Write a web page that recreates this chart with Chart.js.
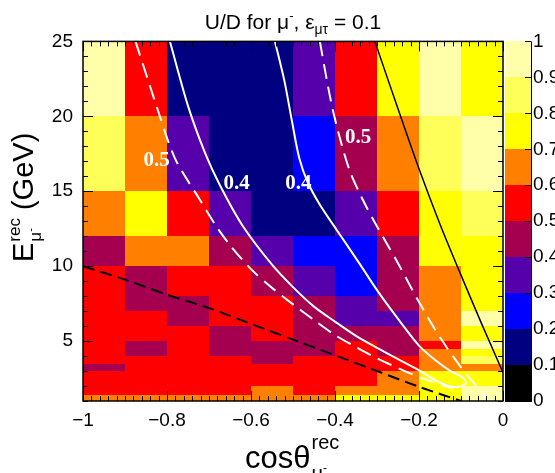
<!DOCTYPE html>
<html>
<head>
<meta charset="utf-8">
<script src="https://cdn.jsdelivr.net/npm/chart.js@4.4.1/dist/chart.umd.min.js"></script>
<style>
  html, body { margin: 0; padding: 0; background: #fff; }
</style>
</head>
<body>
<canvas id="ud-chart" width="555" height="473"></canvas>
<script>
// Bin edges
const cosEdges = [-1, -0.9, -0.8, -0.7, -0.6, -0.5, -0.4, -0.3, -0.2, -0.1, 0];
const energyEdges = [1, 1.4, 2, 3, 3.5, 4, 4.5, 5, 6, 7, 8, 10, 12, 15, 20, 25];

// Tick labels
const cosTicks = [-1, -0.8, -0.6, -0.4, -0.2, 0];
const energyTicks = [5, 10, 15, 20, 25];
const ratioTicks = [0, 0.1, 0.2, 0.3, 0.4, 0.5, 0.6, 0.7, 0.8, 0.9, 1];

// U/D ratio, one row per energy bin (lowest energy first), columns cos -1 .. 0
const udRatio = [
    [0.64, 0.63, 0.65, 0.62, 0.64, 0.63, 0.72, 0.73, 0.76, 0.94], // 1 - 1.4
    [0.57, 0.58, 0.56, 0.57, 0.63, 0.58, 0.65, 0.66, 0.78, 0.92], // 1.4 - 2
    [0.56, 0.55, 0.57, 0.56, 0.58, 0.56, 0.59, 0.62, 0.75, 0.77], // 2 - 3
    [0.47, 0.57, 0.56, 0.55, 0.54, 0.53, 0.58, 0.55, 0.66, 0.68], // 3 - 3.5
    [0.58, 0.56, 0.55, 0.54, 0.48, 0.52, 0.57, 0.56, 0.63, 0.84], // 3.5 - 4
    [0.55, 0.45, 0.53, 0.46, 0.45, 0.48, 0.56, 0.47, 0.64, 0.74], // 4 - 4.5
    [0.54, 0.46, 0.56, 0.44, 0.47, 0.45, 0.55, 0.49, 0.57, 0.90], // 4.5 - 5
    [0.57, 0.54, 0.55, 0.46, 0.53, 0.47, 0.43, 0.48, 0.69, 0.75], // 5 - 6
    [0.56, 0.52, 0.48, 0.54, 0.53, 0.45, 0.39, 0.37, 0.67, 0.91], // 6 - 7
    [0.55, 0.47, 0.49, 0.53, 0.52, 0.44, 0.38, 0.47, 0.66, 0.79], // 7 - 8
    [0.53, 0.48, 0.52, 0.51, 0.46, 0.36, 0.29, 0.44, 0.68, 0.77], // 8 - 10
    [0.47, 0.62, 0.61, 0.45, 0.34, 0.26, 0.28, 0.46, 0.78, 0.76], // 10 - 12
    [0.67, 0.74, 0.55, 0.38, 0.17, 0.18, 0.35, 0.57, 0.77, 0.83], // 12 - 15
    [0.84, 0.66, 0.37, 0.16, 0.15, 0.27, 0.46, 0.64, 0.86, 0.93], // 15 - 20
    [0.93, 0.56, 0.14, 0.12, 0.13, 0.36, 0.57, 0.76, 0.92, 0.78]  // 20 - 25
];

// Contour lines as [cos, E] points
const contour04 = [[-0.793, 25], [-0.75, 20.7], [-0.71, 17.6], [-0.674, 15.4], [-0.62, 12.7], [-0.55, 10.1],
    [-0.5, 8.6], [-0.45, 7.3], [-0.4, 6.3], [-0.35, 5.35], [-0.3, 4.55], [-0.25, 3.8], [-0.2, 3.05], [-0.165, 2.45],
    [-0.13, 2.0], [-0.105, 1.95], [-0.088, 2.2], [-0.098, 2.6], [-0.125, 3.0], [-0.16, 3.7], [-0.2, 4.7],
    [-0.245, 6.3], [-0.3, 8.4], [-0.34, 10.1], [-0.393, 12.3], [-0.436, 14.1], [-0.465, 15.6], [-0.485, 17.2],
    [-0.502, 19.6], [-0.52, 22.3], [-0.543, 25]];
const contour05Left = [[-0.875, 25], [-0.845, 22.4], [-0.817, 20], [-0.798, 18.4], [-0.776, 16.9], [-0.721, 14.4],
    [-0.686, 12.8], [-0.65, 11.4], [-0.6, 9.8], [-0.55, 8.55], [-0.5, 7.45], [-0.45, 6.4], [-0.4, 5.4], [-0.35, 4.6],
    [-0.3, 3.85], [-0.25, 3.2], [-0.2, 2.6], [-0.16, 2.2], [-0.12, 1.85]];
const contour05Right = [[-0.436, 25], [-0.42, 22.5], [-0.405, 20.4], [-0.385, 18.2], [-0.364, 16.3], [-0.335, 14.5],
    [-0.305, 12.9], [-0.25, 10.2], [-0.2, 7.6], [-0.15, 5.25], [-0.1, 3.25], [-0.05, 1.55], [-0.035, 1.0]];
const blackSolid = [[-0.305, 25], [-0.25, 20.5], [-0.2, 16.5], [-0.15, 12.8], [-0.1, 9.4], [-0.05, 6.1], [0, 2.9]];
const blackDashed = [[-1, 10], [-0.9, 9.1], [-0.8, 8.1], [-0.7, 7.2], [-0.6, 6.15], [-0.5, 5.1], [-0.4, 4.05],
    [-0.3, 3.0], [-0.2, 1.95], [-0.1, 1.0]];

// Contour labels
const contourLabels = [
    { text: '0.5', cos: -0.825, e: 17.07 },
    { text: '0.4', cos: -0.634, e: 15.48 },
    { text: '0.4', cos: -0.487, e: 15.48 },
    { text: '0.5', cos: -0.345, e: 18.59 }
];

const palette = ['#000000', '#000080', '#0000ff', '#5500aa', '#a50050',
    '#ff0000', '#ff8000', '#ffff00', '#ffff5a', '#ffffaa'];

const sansFont = 'Liberation Sans, Arial, Helvetica, sans-serif';

function colorFor(v) {
    return palette[Math.min(palette.length - 1, Math.floor(v * 10))];
}

function toPoints(pairs) {
    return pairs.map(p => ({ x: p[0], y: p[1] }));
}

// draws a run of text pieces, each piece {t, size, dy}
function drawPieces(ctx, pieces, x, y) {
    let cx = x;
    pieces.forEach(p => {
        ctx.font = p.size + 'px ' + sansFont;
        ctx.fillText(p.t, cx, y + (p.dy || 0));
        if (!p.stack) cx += ctx.measureText(p.t).width;
    });
    return cx;
}

const heatmapPlugin = {
    id: 'heatmap',
    beforeDatasetsDraw(chart) {
        const { ctx, scales: { x, y } } = chart;
        ctx.save();
        udRatio.forEach((row, i) => {
            row.forEach((val, j) => {
                const left = Math.round(x.getPixelForValue(cosEdges[j]));
                const right = Math.round(x.getPixelForValue(cosEdges[j + 1]));
                const top = Math.round(y.getPixelForValue(energyEdges[i + 1]));
                const bottom = Math.round(y.getPixelForValue(energyEdges[i]));
                ctx.fillStyle = colorFor(val);
                ctx.fillRect(left, top, right - left, bottom - top);
            });
        });
        ctx.restore();
    },
    afterDatasetsDraw(chart) {
        const { ctx, chartArea: a, scales: { x, y, z } } = chart;
        ctx.save();

        // contour labels
        ctx.fillStyle = '#ffffff';
        ctx.font = 'bold 21px Liberation Serif, Times New Roman, serif';
        ctx.textAlign = 'center';
        ctx.textBaseline = 'middle';
        contourLabels.forEach(l => {
            ctx.fillText(l.text, x.getPixelForValue(l.cos), y.getPixelForValue(l.e));
        });

        // frame and inner ticks
        ctx.strokeStyle = '#000';
        ctx.lineWidth = 1;
        ctx.beginPath();
        for (let k = 0; k <= 50; k++) {
            const px = Math.round(x.getPixelForValue(-1 + k * 0.02)) + 0.5;
            const len = k % 10 === 0 ? 10 : 5;
            ctx.moveTo(px, a.bottom); ctx.lineTo(px, a.bottom - len);
            ctx.moveTo(px, a.top); ctx.lineTo(px, a.top + len);
        }
        for (let e = 1; e <= 25; e++) {
            const py = Math.round(y.getPixelForValue(e)) + 0.5;
            const len = e % 5 === 0 ? 10 : 5;
            ctx.moveTo(a.left, py); ctx.lineTo(a.left + len, py);
            ctx.moveTo(a.right, py); ctx.lineTo(a.right - len, py);
        }
        ctx.stroke();
        ctx.lineWidth = 1.5;
        ctx.strokeRect(a.left, a.top, a.right - a.left, a.bottom - a.top);

        // colour bar
        const cbLeft = a.right + 2, cbRight = a.right + 28;
        for (let k = 0; k < ratioTicks.length - 1; k++) {
            const t = Math.round(z.getPixelForValue(ratioTicks[k + 1]));
            const b = Math.round(z.getPixelForValue(ratioTicks[k]));
            ctx.fillStyle = palette[k];
            ctx.fillRect(cbLeft, t, cbRight - cbLeft, b - t);
        }
        ctx.lineWidth = 1;
        ctx.beginPath();
        ratioTicks.forEach(v => {
            const py = Math.round(z.getPixelForValue(v)) + 0.5;
            ctx.moveTo(cbRight, py); ctx.lineTo(cbRight - 6, py);
        });
        ctx.moveTo(cbRight + 0.5, a.top); ctx.lineTo(cbRight + 0.5, a.bottom + 1);
        ctx.moveTo(cbLeft, a.bottom + 0.5); ctx.lineTo(cbRight + 1, a.bottom + 0.5);
        ctx.stroke();
        ctx.restore();
    },
    afterDraw(chart) {
        const { ctx } = chart;
        ctx.save();
        ctx.fillStyle = '#000';
        ctx.textBaseline = 'alphabetic';
        ctx.textAlign = 'left';

        // title
        const titlePieces = [
            { t: 'U/D for \u03bc', size: 21 },
            { t: '-', size: 13, dy: -9 },
            { t: ', \u03b5', size: 21 },
            { t: '\u03bc\u03c4', size: 14, dy: 5 },
            { t: ' = 0.1', size: 21 }
        ];
        let w = 0;
        titlePieces.forEach(p => { ctx.font = p.size + 'px ' + sansFont; w += ctx.measureText(p.t).width; });
        drawPieces(ctx, titlePieces, 293 - w / 2, 29);

        // x title
        let cx = drawPieces(ctx, [{ t: 'cos\u03b8', size: 31 }], 245, 468);
        drawPieces(ctx, [{ t: 'rec', size: 20, dy: -19, stack: true }], cx + 1, 468);
        let mx = drawPieces(ctx, [{ t: '\u03bc', size: 20, dy: 12 }], cx + 1, 468);
        drawPieces(ctx, [{ t: '-', size: 12, dy: 4 }], mx, 468);

        // y title (rotated)
        ctx.translate(33, 262);
        ctx.rotate(-Math.PI / 2);
        let ex = drawPieces(ctx, [{ t: 'E', size: 29 }], 0, 0);
        ctx.font = '17px ' + sansFont;
        const recW = ctx.measureText('rec').width;
        drawPieces(ctx, [{ t: 'rec', size: 17, dy: -13, stack: true }], ex + 1, 0);
        let ux = drawPieces(ctx, [{ t: '\u03bc', size: 17, dy: 8 }], ex + 1, 0);
        drawPieces(ctx, [{ t: '-', size: 11, dy: 1 }], ux, 0);
        drawPieces(ctx, [{ t: '(GeV)', size: 29 }], ex + recW + 9, 0);
        ctx.restore();
    }
};

const tickFont = { family: sansFont, size: 19 };

const lineStyle = (pairs, color, width, dash) => ({
    data: toPoints(pairs),
    showLine: true,
    borderColor: color,
    borderWidth: width,
    borderDash: dash,
    pointRadius: 0,
    tension: 0.3,
    fill: false
});

new Chart(document.getElementById('ud-chart'), {
    type: 'scatter',
    data: {
        datasets: [
            lineStyle(blackDashed, '#000000', 2, [12, 6]),
            lineStyle(blackSolid, '#000000', 1.5, []),
            lineStyle(contour05Left, '#ffffff', 2, [15, 8]),
            lineStyle(contour05Right, '#ffffff', 2, [15, 8]),
            lineStyle(contour04, '#ffffff', 2, [])
        ]
    },
    options: {
        responsive: false,
        animation: false,
        events: [],
        layout: { padding: { top: 38, left: 0, right: 0, bottom: 0 } },
        plugins: { legend: { display: false }, tooltip: { enabled: false }, title: { display: false } },
        scales: {
            x: {
                type: 'linear', min: -1, max: 0,
                grid: { display: false, drawTicks: false },
                border: { display: false },
                afterBuildTicks: s => { s.ticks = cosTicks.map(v => ({ value: v })); },
                ticks: {
                    font: tickFont, color: '#000', padding: 8, autoSkip: false, maxRotation: 0,
                    callback: v => v === 0 ? '0' : '\u2212' + Math.abs(v)
                },
                afterFit: s => { s.height = 72; }
            },
            y: {
                type: 'linear', min: 1, max: 25,
                grid: { display: false, drawTicks: false },
                border: { display: false },
                afterBuildTicks: s => { s.ticks = energyTicks.map(v => ({ value: v })); },
                ticks: { font: tickFont, color: '#000', padding: 10, autoSkip: false },
                afterFit: s => { s.width = 83; }
            },
            z: {
                type: 'linear', position: 'right', min: 0, max: 1,
                grid: { display: false, drawTicks: false },
                border: { display: false },
                afterBuildTicks: s => { s.ticks = ratioTicks.map(v => ({ value: v })); },
                ticks: {
                    font: tickFont, color: '#000', padding: 30, autoSkip: false,
                    callback: v => (v === 0 || v === 1) ? String(v) : v.toFixed(1)
                },
                afterFit: s => { s.width = 52; }
            }
        }
    },
    plugins: [heatmapPlugin]
});
</script>
</body>
</html>
